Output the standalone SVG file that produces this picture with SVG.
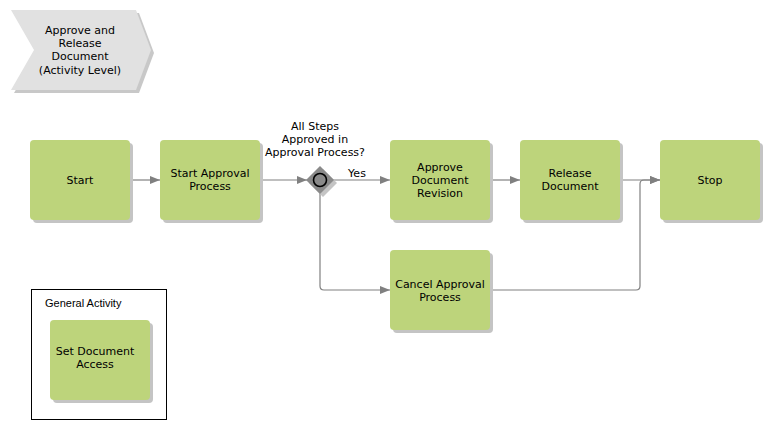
<svg xmlns="http://www.w3.org/2000/svg" width="770" height="430" viewBox="0 0 770 430">
<defs>
<style>
.box{fill:#bdd47b}
.sh{fill:#c4c4c4}
.t{font-family:"DejaVu Sans",Verdana,sans-serif;font-size:11px;fill:#000;text-anchor:middle}
.c{fill:none;stroke:#808080;stroke-width:1.2}
</style>
<marker id="a" markerWidth="10" markerHeight="8" refX="10" refY="4" orient="auto" markerUnits="userSpaceOnUse">
<path d="M0,0 L10,4 L0,8 Z" fill="#808080"/>
</marker>
</defs>
<rect width="770" height="430" fill="#fff"/>
<g id="header">
<polygon points="14,13 139,13 154,53 139,93 14,93 37,53" fill="#c8c8c8"/>
<polygon points="11,10 136,10 151,50 136,90 11,90 34,50" fill="#e1e1e1"/>
<text class="t" x="80" y="34">Approve and</text>
<text class="t" x="80" y="47">Release</text>
<text class="t" x="80" y="60">Document</text>
<text class="t" x="80" y="74">(Activity Level)</text>
</g>
<g id="connectors">
<line class="c" x1="130" y1="180" x2="160" y2="180" marker-end="url(#a)"/>
<line class="c" x1="260" y1="180" x2="307" y2="180" marker-end="url(#a)"/>
<line class="c" x1="333" y1="180" x2="390" y2="180" marker-end="url(#a)"/>
<text class="t" x="357" y="177">Yes</text>
<path class="c" d="M320,193 V286 Q320,290 324,290 H390" marker-end="url(#a)"/>
<line class="c" x1="490" y1="180" x2="520" y2="180" marker-end="url(#a)"/>
<line class="c" x1="620" y1="180" x2="660" y2="180" marker-end="url(#a)"/>
<path class="c" d="M490,290 H636 Q640,290 640,286 V184 Q640,180 644,180 H660" marker-end="url(#a)"/>
</g>
<g id="start">
<rect class="sh" x="33" y="143" width="100" height="80" rx="4"/>
<rect class="box" x="30" y="140" width="100" height="80" rx="4"/>
<text class="t" x="80" y="184">Start</text>
</g>
<g id="startApproval">
<rect class="sh" x="163" y="143" width="100" height="80" rx="4"/>
<rect class="box" x="160" y="140" width="100" height="80" rx="4"/>
<text class="t" x="210" y="177">Start Approval</text>
<text class="t" x="210" y="190">Process</text>
</g>
<g id="gateway">
<text class="t" x="315" y="130">All Steps</text>
<text class="t" x="315" y="143">Approved in</text>
<text class="t" x="315" y="156">Approval Process?</text>
<polygon points="323,169 337,183 323,197 309,183" fill="#c4c4c4"/>
<polygon points="320,166 334,180 320,194 306,180" fill="#8a8a8a"/>
<circle cx="320" cy="180" r="6.5" fill="#8a8a8a" stroke="#000" stroke-width="1.6"/>
</g>
<g id="approve">
<rect class="sh" x="393" y="143" width="100" height="80" rx="4"/>
<rect class="box" x="390" y="140" width="100" height="80" rx="4"/>
<text class="t" x="440" y="171">Approve</text>
<text class="t" x="440" y="184">Document</text>
<text class="t" x="440" y="197">Revision</text>
</g>
<g id="release">
<rect class="sh" x="523" y="143" width="100" height="80" rx="4"/>
<rect class="box" x="520" y="140" width="100" height="80" rx="4"/>
<text class="t" x="570" y="177">Release</text>
<text class="t" x="570" y="190">Document</text>
</g>
<g id="stop">
<rect class="sh" x="663" y="143" width="100" height="80" rx="4"/>
<rect class="box" x="660" y="140" width="100" height="80" rx="4"/>
<text class="t" x="710" y="184">Stop</text>
</g>
<g id="cancel">
<rect class="sh" x="393" y="253" width="100" height="80" rx="4"/>
<rect class="box" x="390" y="250" width="100" height="80" rx="4"/>
<text class="t" x="440" y="288">Cancel Approval</text>
<text class="t" x="440" y="301">Process</text>
</g>
<g id="generalActivity">
<rect x="31.5" y="289.5" width="135" height="130" fill="#fff" stroke="#000" stroke-width="1"/>
<text x="45" y="307" font-family="'Liberation Sans',Arial,sans-serif" font-size="11" fill="#000">General Activity</text>
</g>
<g id="setAccess">
<rect class="sh" x="53" y="323" width="100" height="80" rx="4"/>
<rect class="box" x="50" y="320" width="100" height="80" rx="4"/>
<text class="t" x="95" y="355">Set Document</text>
<text class="t" x="95" y="368">Access</text>
</g>
</svg>
